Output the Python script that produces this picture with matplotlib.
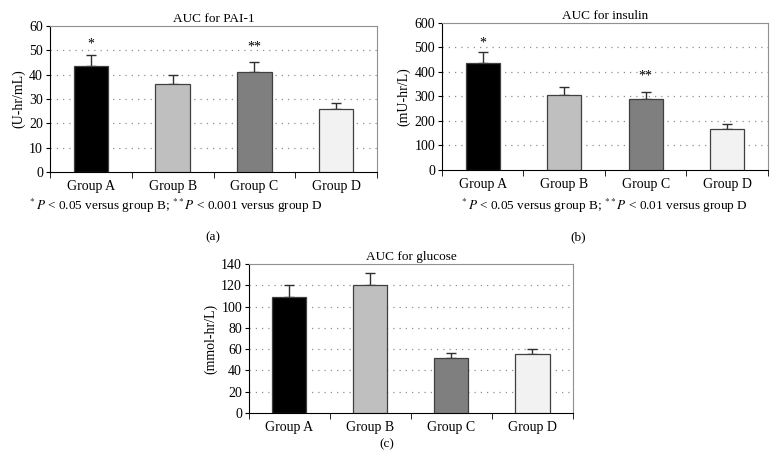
import numpy as np
import matplotlib
matplotlib.use("Agg")
import matplotlib.pyplot as plt

plt.rcParams['font.family'] = ['Liberation Serif', 'DejaVu Serif']
plt.rcParams['mathtext.fontset'] = 'stix'

groups = ["Group A", "Group B", "Group C", "Group D"]
colors = ["#000000", "#bfbfbf", "#7f7f7f", "#f2f2f2"]

pai1 = [43.6, 36.2, 41.0, 25.7]
pai1_err = [4.6, 3.6, 4.1, 2.6]

insulin = [435, 307, 288, 169]
insulin_err = [45, 32, 29, 17]

glucose = [109, 120, 51.5, 55]
glucose_err = [11, 12, 5.0, 5.5]


def panel(ax, vals, errs, title, ylabel, ymax, ystep):
    x = np.arange(len(groups))
    ax.bar(x, vals, width=0.42, color=colors, edgecolor="#404040", linewidth=0.9, zorder=3)
    ax.errorbar(x, vals, yerr=[np.zeros(len(errs)), errs], fmt='none',
                ecolor="#303030", elinewidth=1.0, capsize=3.5, capthick=1.0, zorder=2)
    ax.set_xlim(-0.5, len(groups) - 0.5)
    ax.set_ylim(0, ymax)
    ax.set_yticks(np.arange(0, ymax + ystep / 2, ystep))
    ax.set_xticks(x)
    ax.set_xticklabels(groups, fontsize=10)
    ax.set_xticks(np.arange(-0.5, len(groups), 1.0), minor=True)
    ax.tick_params(axis='x', which='major', length=0, pad=6)
    ax.tick_params(axis='x', which='minor', length=4, direction='out')
    ax.tick_params(axis='y', labelsize=10, length=3, direction='out', pad=2)
    for t in np.arange(ystep, ymax, ystep):
        ax.axhline(t, color="#909090", linestyle=(0, (1, 4)), linewidth=0.9, zorder=1)
    ax.set_title(title, fontsize=9.5, pad=3)
    ax.set_ylabel(ylabel, fontsize=10, labelpad=3)
    ax.spines['top'].set_color("#909090")
    ax.spines['right'].set_color("#909090")
    ax.spines['left'].set_color("#000000")
    ax.spines['bottom'].set_color("#000000")


fig = plt.figure(figsize=(7.78, 4.66), dpi=100)

ax1 = fig.add_axes([0.0643, 0.6309, 0.4203, 0.3133])
panel(ax1, pai1, pai1_err, "AUC for PAI-1", "(U-hr/mL)", 60, 10)
ax1.text(0, 52.5, "*", ha='center', va='center', fontsize=10)
ax1.text(2, 51.5, "**", ha='center', va='center', fontsize=10)

ax2 = fig.add_axes([0.5681, 0.6352, 0.419, 0.3155])
panel(ax2, insulin, insulin_err, "AUC for insulin", "(mU-hr/L)", 600, 100)
ax2.text(0, 518, "*", ha='center', va='center', fontsize=10)
ax2.text(2, 382, "**", ha='center', va='center', fontsize=10)

ax3 = fig.add_axes([0.32, 0.1137, 0.4165, 0.3197])
panel(ax3, glucose, glucose_err, "AUC for glucose", "(mmol-hr/L)", 140, 20)

fig.text(28 / 778, 1 - 206 / 466, r"$^*$$\it{P}$ < 0.05 versus group B; $^{**}$$\it{P}$ < 0.001 versus group D",
         fontsize=9.5, va='center', ha='left')
fig.text(460 / 778, 1 - 206 / 466, r"$^*$$\it{P}$ < 0.05 versus group B; $^{**}$$\it{P}$ < 0.01 versus group D",
         fontsize=9.5, va='center', ha='left')
fig.text(213 / 778, 1 - 237 / 466, "(a)", fontsize=9.5, ha='center', va='center')
fig.text(578 / 778, 1 - 237 / 466, "(b)", fontsize=9.5, ha='center', va='center')
fig.text(387 / 778, 1 - 444 / 466, "(c)", fontsize=9.5, ha='center', va='center')

fig.savefig("out.png", dpi=100)
